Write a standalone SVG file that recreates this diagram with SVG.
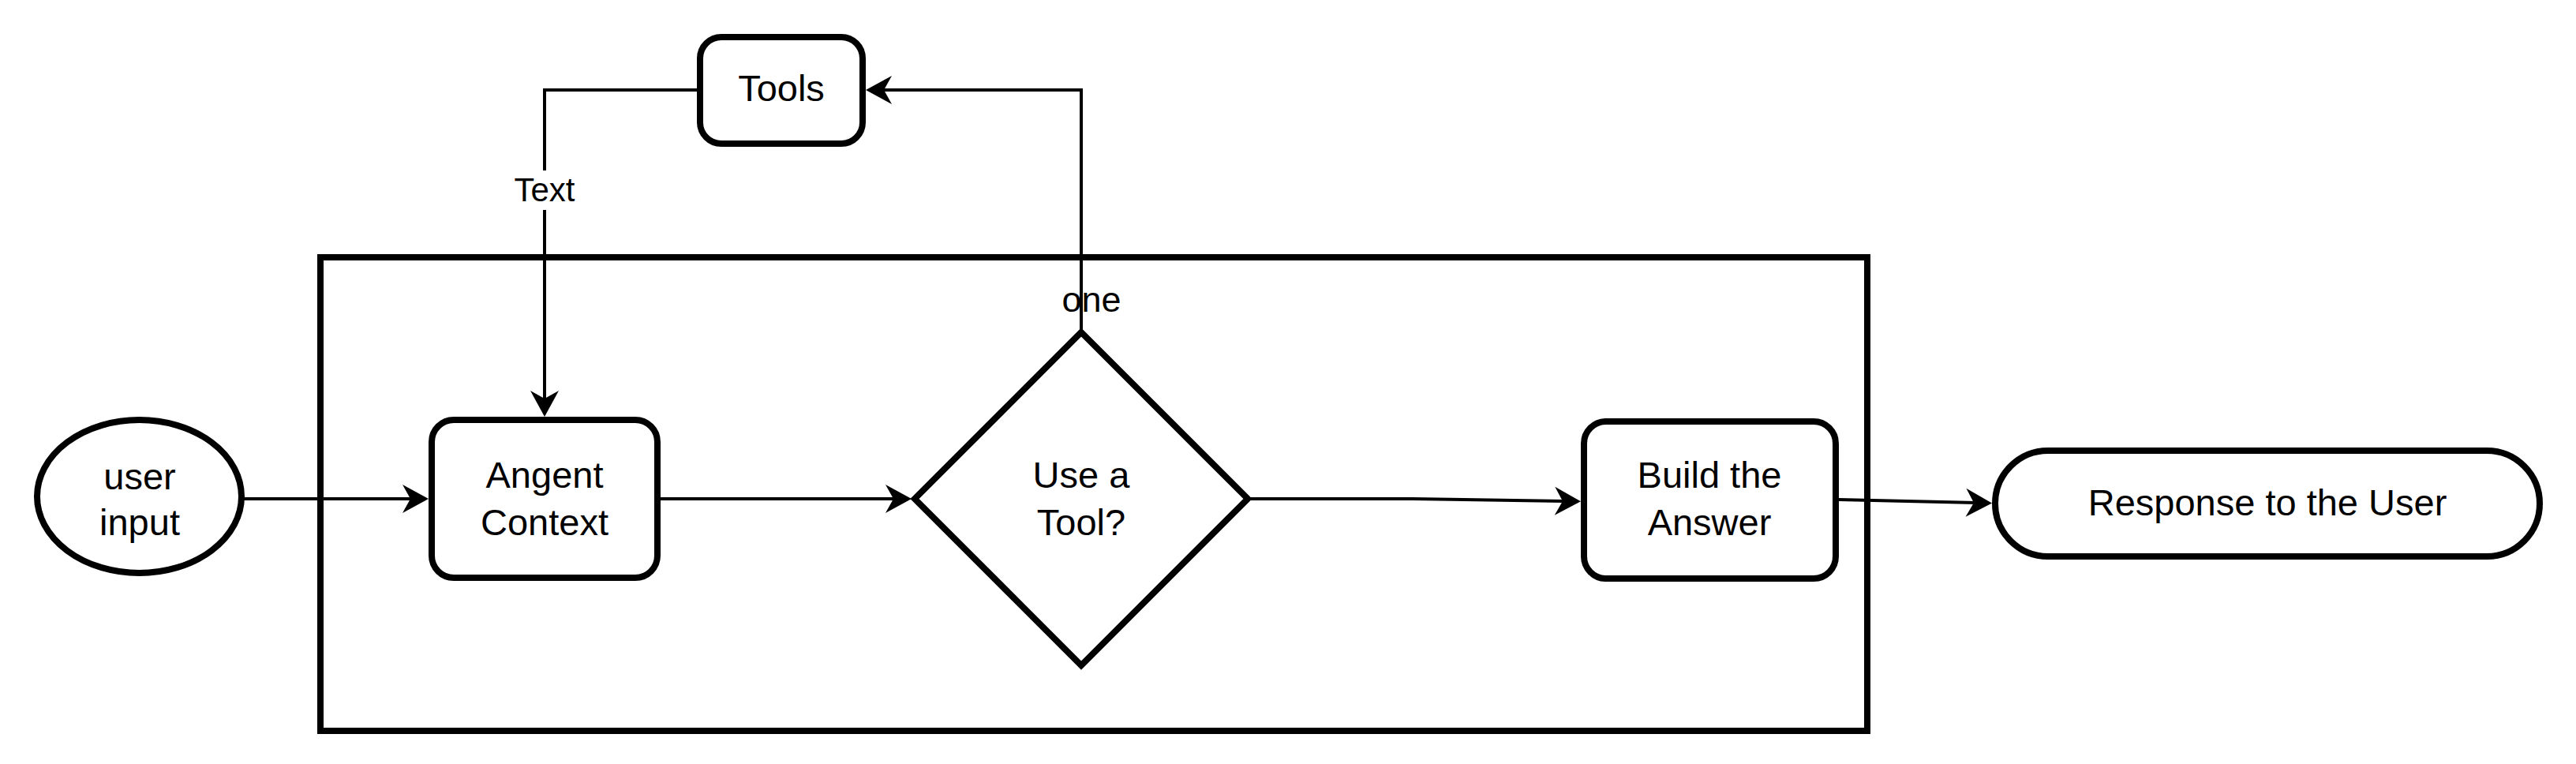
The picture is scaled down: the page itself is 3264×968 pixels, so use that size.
<svg xmlns="http://www.w3.org/2000/svg" width="3264" height="968" viewBox="0 0 3264 968">
<style>
.shape{fill:#fff;stroke:#000;stroke-width:8}
.frame{fill:none;stroke:#000;stroke-width:8}
.edge{fill:none;stroke:#000;stroke-width:4;marker-end:url(#arr)}
.plain{fill:none;stroke:#000;stroke-width:4}
.t{font-family:"Liberation Sans",Arial,Helvetica,sans-serif;font-size:47px;fill:#000;text-anchor:middle}
.lbl{font-family:"Liberation Sans",Arial,Helvetica,sans-serif;font-size:42px;fill:#000;text-anchor:middle}
</style>
<defs>
<marker id="arr" markerUnits="userSpaceOnUse" viewBox="-14 -19 35 38" markerWidth="35" markerHeight="38" refX="0" refY="0" orient="auto">
<path d="M20,0 L-13,-18 L-3,0 L-13,18 Z" fill="#000"/>
</marker>
</defs>
<rect width="3264" height="968" fill="#fff"/>
<g id="container">
<rect class="frame" x="406" y="326" width="1960" height="600"/>
</g>
<g id="connectors">
<path class="edge" d="M306,632 L523,632"/>
<path class="edge" d="M887,114 L690,114 L690,508"/>
<path class="edge" d="M1370,421 L1370,114 L1117,114"/>
<path class="edge" d="M833,632 L1135,632"/>
<path class="edge" d="M1581,632 L1790,632 L1983,635"/>
<path class="edge" d="M2330,633 L2504,637"/>
<g id="label-text">
<rect x="646" y="216" width="88" height="50" fill="#fff"/>
<text class="lbl" x="690" y="255">Text</text>
</g>
<g id="label-one">
<text class="t" x="1383" y="395" style="font-size:45px">one</text>
</g>
</g>
<g id="tools">
<rect class="shape" x="887" y="47" width="206" height="135" rx="27"/>
<text class="t" x="990" y="128">Tools</text>
</g>
<g id="user-input">
<ellipse class="shape" cx="176.5" cy="629" rx="129.5" ry="97"/>
<text class="t" x="177" y="620">user</text>
<text class="t" x="177" y="678">input</text>
</g>
<g id="agent-context">
<rect class="shape" x="547" y="532" width="286" height="200" rx="28"/>
<text class="t" x="690" y="618">Angent</text>
<text class="t" x="690" y="678">Context</text>
</g>
<g id="use-tool">
<polygon class="shape" points="1370,421 1581,632 1370,843 1159,632"/>
<text class="t" x="1370" y="618">Use a</text>
<text class="t" x="1370" y="678">Tool?</text>
</g>
<g id="build-answer">
<rect class="shape" x="2007" y="534" width="319" height="199" rx="28"/>
<text class="t" x="2166" y="618">Build the</text>
<text class="t" x="2166" y="678">Answer</text>
</g>
<g id="response">
<rect class="shape" x="2528" y="571" width="690" height="134" rx="67"/>
<text class="t" x="2873" y="653">Response to the User</text>
</g>
</svg>
